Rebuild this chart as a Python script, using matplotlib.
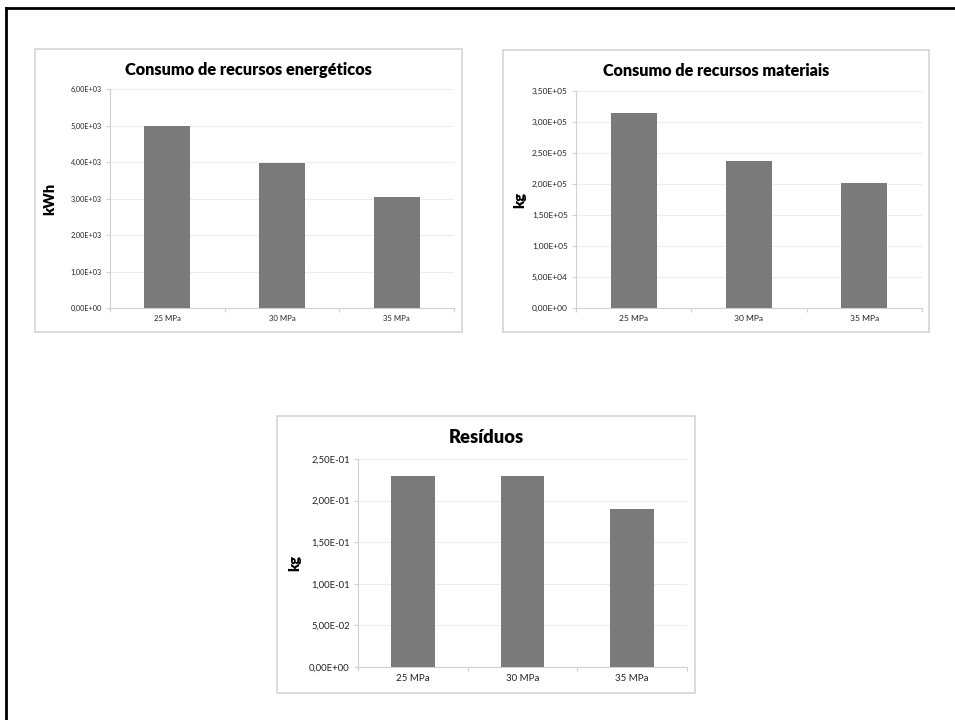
import matplotlib
matplotlib.use("Agg")
from matplotlib import pyplot as plt
from matplotlib.patches import Rectangle
from matplotlib.lines import Line2D

W, H = 955, 720

categorias = ["25 MPa", "30 MPa", "35 MPa"]

energia = [5000, 3970, 3040]          # kWh
materiais = [3.14e5, 2.37e5, 2.02e5]  # kg
residuos = [0.229, 0.229, 0.190]      # kg

plt.rcParams['font.family'] = ['Lato', 'DejaVu Sans']

fig = plt.figure(figsize=(W / 100, H / 100), dpi=100)
fig.patch.set_facecolor("white")


def caixa(x0, y0, x1, y1):
    # pixels -> fracao da figura
    return [x0 / W, 1 - y1 / H, (x1 - x0) / W, (y1 - y0) / H]


def fmt(v):
    return f"{v:.2E}".replace(".", ",")


def painel(moldura, area, valores, titulo, ylabel, ymax, passo, titulo_y, ylabel_x,
           fs_titulo, fs_y, fs_x):
    # moldura cinza do grafico
    x0, y0, x1, y1 = moldura
    fig.add_artist(Rectangle((x0 / W, 1 - y1 / H), (x1 - x0) / W, (y1 - y0) / H,
                             transform=fig.transFigure, fill=False,
                             edgecolor="#d4d4d4", linewidth=1.2))
    ax = fig.add_axes(caixa(*area))
    ax.bar(range(3), valores, width=0.4, color="#7a7a7a", zorder=3)
    ax.set_xlim(-0.5, 2.5)
    ax.set_ylim(0, ymax)
    ticks = [i * passo for i in range(int(round(ymax / passo)) + 1)]
    ax.set_yticks(ticks)
    ax.set_yticklabels([fmt(t) for t in ticks], fontsize=fs_y, color="#222222")
    ax.set_xticks(range(3))
    ax.set_xticklabels(categorias, fontsize=fs_x, color="#222222")
    ax.set_xticks([-0.5, 0.5, 1.5, 2.5], minor=True)
    ax.tick_params(axis="x", which="major", length=0, pad=5)
    ax.tick_params(axis="x", which="minor", length=3, color="#d0d0d0", width=0.8)
    ax.tick_params(axis="y", length=3, color="#d0d0d0", width=0.8, pad=3)
    ax.grid(axis="y", color="#ededed", linewidth=0.8, zorder=0)
    for s in ["top", "right"]:
        ax.spines[s].set_visible(False)
    for s in ["left", "bottom"]:
        ax.spines[s].set_color("#d0d0d0")
        ax.spines[s].set_linewidth(0.8)
    cy = 1 - (area[1] + area[3]) / 2 / H
    fig.text(ylabel_x / W, cy, ylabel, fontsize=10.5, fontweight="heavy",
             rotation=90, ha="center", va="center")
    cx = (x0 + x1) / 2 / W
    fig.text(cx, 1 - titulo_y / H, titulo, fontsize=fs_titulo, fontweight="heavy",
             ha="center", va="center")
    return ax


painel((35, 49, 462, 332), (110, 89, 454, 308), energia,
       "Consumo de recursos energéticos", "kWh", 6000, 1000, 70, 50,
       11.8, 5.2, 5.6)
painel((503, 50, 929, 332), (576, 91, 922, 308), materiais,
       "Consumo de recursos materiais", "kg", 3.5e5, 5e4, 71, 520,
       11.6, 6.0, 6.1)
painel((277, 416, 695, 693), (358, 459, 687, 667), residuos,
       "Resíduos", "kg", 0.25, 0.05, 438, 295,
       13.2, 6.8, 7.0)

# borda preta (so topo e esquerda)
fig.add_artist(Line2D([6 / W, 6 / W], [0, 1 - 8 / H], transform=fig.transFigure,
                      color="black", linewidth=2))
fig.add_artist(Line2D([6 / W, 1], [1 - 8 / H, 1 - 8 / H], transform=fig.transFigure,
                      color="black", linewidth=2))

fig.savefig("out.png", dpi=100, facecolor="white")
